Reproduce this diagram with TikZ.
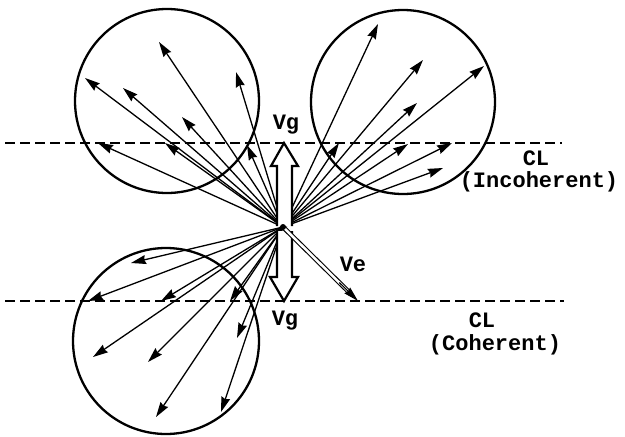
\documentclass[tikz,border=0pt]{standalone}
\usepackage{fontspec}
\setmonofont{Liberation Mono}
\usetikzlibrary{arrows.meta,calc}
\begin{document}
\begin{tikzpicture}[x=1pt,y=-1pt,
  ray/.style={line width=1.3pt,-{Stealth[length=15pt,width=9pt,inset=1.5pt]}},
  ring/.style={line width=2.3pt},
  cl/.style={line width=2.4pt,dash pattern=on 10pt off 5pt},
  blockarrow/.style={line width=2.2pt,fill=white,line join=miter},
  lbl/.style={font=\fontsize{22}{25}\selectfont\ttfamily\bfseries,inner sep=0pt,align=center}]
\useasboundingbox (0,0) rectangle (625,437);
% circles
\node[ring,draw,circle,minimum size=184pt,inner sep=0pt] (c1) at (167,101) {};
\node[ring,draw,circle,minimum size=184pt,inner sep=0pt] (c2) at (403,102) {};
\node[ring,draw,circle,minimum size=186pt,inner sep=0pt] (c3) at (166,341) {};
% dashed lines
\coordinate (d1a) at (5,143); \coordinate (d1b) at (562,143);
\coordinate (d2a) at (5,301); \coordinate (d2b) at (564,301);
\draw[cl] (d1a) -- (d1b);
\draw[cl] (d2a) -- (d2b);
% origin
\coordinate (O) at (283,227);
% top-left rays
\foreach \n/\x/\y in {a1/85/78,a2/123/88,a3/159/42,a4/236/72,a5/182/117,a6/98/143,a7/165/143,a8/247/145}{
  \coordinate (\n) at (\x,\y); \draw[ray] (O) -- (\n);}
% top-right rays
\foreach \n/\x/\y in {b1/378/24,b2/423/60,b3/484/66,b4/417/103,b5/339/143,b6/408/144,b7/452/143,b8/443/168}{
  \coordinate (\n) at (\x,\y); \draw[ray] (O) -- (\n);}
% bottom-left rays
\foreach \n/\x/\y in {e1/131/263,e2/88/301,e3/161/301,e4/230/301,e5/93/357,e6/148/362,e7/237/338,e8/156/417,e9/221/412}{
  \coordinate (\n) at (\x,\y); \draw[ray] (O) -- (\n);}
% Vg block arrows
\draw[blockarrow] (277,226) -- (277,166) -- (271,166) -- (284,143) -- (298,166) -- (292,166) -- (292,226);
\draw[blockarrow] (277,231) -- (277,277) -- (270,277) -- (284,301) -- (298,277) -- (292,277) -- (292,231);
% Ve arrow
\coordinate (ve) at (358,301);
\draw[line width=1.1pt,double,double distance=2.5pt,shorten >=13pt] (O) -- (ve);
\draw[line width=1.1pt,-{Stealth[length=15pt,width=8pt,inset=1pt]}] ($(O)!0.75!(ve)$) -- (ve);
\fill (O) circle (3pt);
% labels
\node[lbl] (vg1) at (286,125) {Vg};
\node[lbl] (vg2) at (285,321) {Vg};
\node[lbl] (vel) at (353,264) {Ve};
\node[lbl] (cl1) at (536,158) {CL};
\node[lbl] (inc) at (539,182) {(Incoherent)};
\node[lbl] (cl2) at (482,320) {CL};
\node[lbl] (coh) at (495,345) {(Coherent)};
\end{tikzpicture}
\end{document}
